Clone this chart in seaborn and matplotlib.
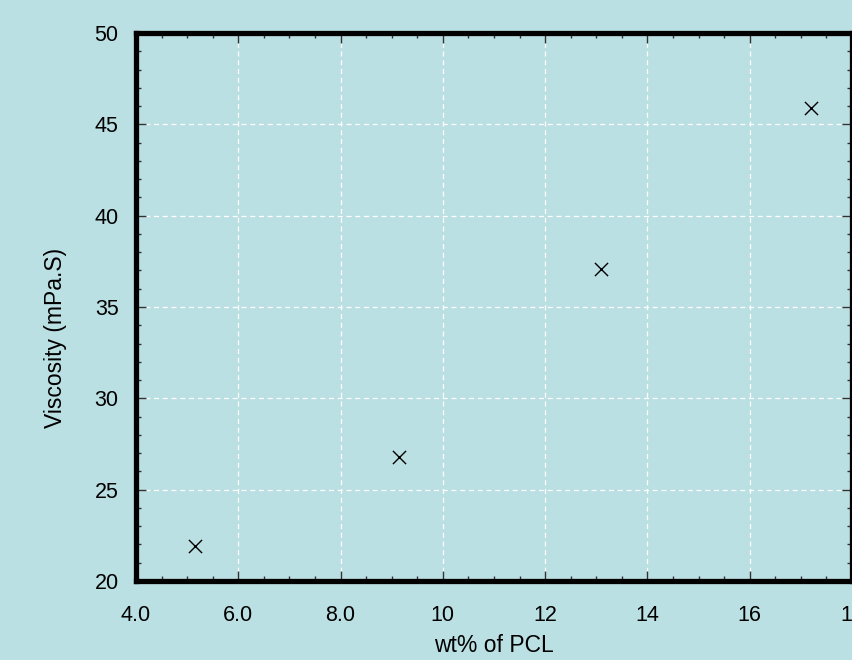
import matplotlib
matplotlib.use("Agg")
import matplotlib.pyplot as plt
import seaborn as sns
import pandas as pd
from matplotlib.ticker import MultipleLocator

wt_pcl = [5.15, 9.15, 13.1, 17.2]
viscosity = [21.9, 26.8, 37.1, 45.9]
x_ticks = [4, 6, 8, 10, 12, 14, 16, 18]
x_tick_labels = ["4.0", "6.0", "8.0", "10", "12", "14", "16", "18"]
y_ticks = [20, 25, 30, 35, 40, 45, 50]
y_tick_labels = ["20", "25", "30", "35", "40", "45", "50"]

bg = "#bbe0e3"
sns.set_theme(style="ticks")
plt.rcParams['font.family'] = ['Liberation Sans', 'DejaVu Sans']
plt.rcParams['text.color'] = 'black'
plt.rcParams['axes.labelcolor'] = 'black'

df = pd.DataFrame({"wt": wt_pcl, "visc": viscosity})

fig = plt.figure(figsize=(8.53, 6.6), dpi=100, facecolor=bg)
ax = fig.add_axes([0.1594, 0.1197, 0.8394, 0.8303])
ax.set_facecolor(bg)

sns.scatterplot(data=df, x="wt", y="visc", marker="x", color="black", s=90,
                linewidth=1.0, ax=ax, zorder=3)

ax.set_xlim(4, 18)
ax.set_ylim(20, 50)
ax.set_xticks(x_ticks)
ax.set_xticklabels(x_tick_labels)
ax.set_yticks(y_ticks)
ax.set_yticklabels(y_tick_labels)
ax.xaxis.set_minor_locator(MultipleLocator(0.5))
ax.yaxis.set_minor_locator(MultipleLocator(1))

ax.grid(True, which="major", color="white", linestyle=(0, (4, 3)), linewidth=0.9)
ax.set_axisbelow(True)

for s in ax.spines.values():
    s.set_visible(True)
    s.set_linewidth(3.8)
    s.set_color("black")

ax.tick_params(which="major", direction="in", length=7, width=1.0, color="#333333",
               top=True, right=True, labelsize=15.5, labelcolor="black")
ax.tick_params(axis="x", which="major", pad=17)
ax.tick_params(axis="y", which="major", pad=12.5)
ax.tick_params(which="minor", direction="in", length=3.5, width=1.0, color="#333333",
               top=True, right=True)

ax.set_xlabel("wt% of PCL", fontsize=16.5, labelpad=6, color="black")
ax.set_ylabel("Viscosity (mPa.S)", fontsize=16.5, labelpad=20, color="black")
ax.yaxis.label.set_y(0.443)

fig.savefig("out.png", dpi=100, facecolor=bg)
